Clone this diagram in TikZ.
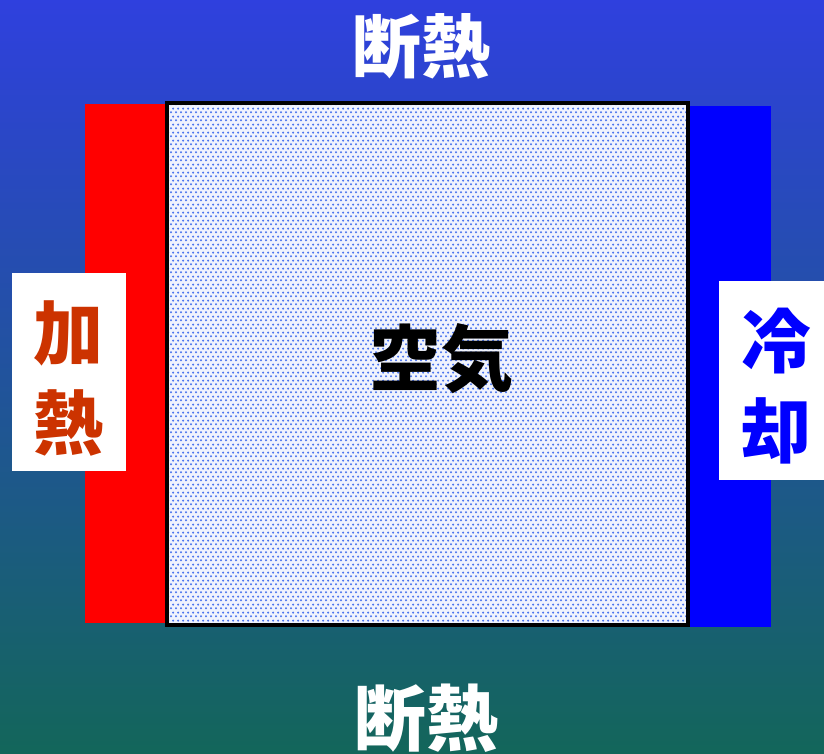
\documentclass[tikz,border=0pt]{standalone}
\usepackage{fontspec}
\newfontfamily\cjk{Noto Sans CJK JP}
\usetikzlibrary{patterns}
\pgfdeclarepatternformonly{airdots}{\pgfpointorigin}{\pgfpoint{5pt}{8pt}}{\pgfpoint{5pt}{8pt}}{%
  \pgfpathcircle{\pgfpoint{1.25pt}{2pt}}{1.3pt}%
  \pgfpathcircle{\pgfpoint{3.75pt}{6pt}}{1.3pt}%
  \pgfusepath{fill}}
\definecolor{bgtop}{HTML}{2F40DE}
\definecolor{bgbot}{HTML}{13665A}
\definecolor{heatred}{HTML}{FF0000}
\definecolor{heattext}{HTML}{CC3300}
\definecolor{coolblue}{HTML}{0000FF}
\definecolor{dotblue}{HTML}{4A74EE}
\definecolor{airbase}{HTML}{F0F3FD}
\tikzset{
  lbl/.style={font=\cjk\bfseries\fontsize{72}{72}\selectfont, inner sep=0pt, anchor=center},
  whitebox/.style={fill=white, draw=none},
}
\begin{document}
\begin{tikzpicture}[x=1pt,y=-1pt]
\useasboundingbox (0,0) rectangle (824,754);
% background gradient
\shade[top color=bgtop, bottom color=bgbot] (0,0) rectangle (824,754);
% heater / cooler bars
\fill[heatred] (85,104) rectangle (167,623);
\fill[coolblue] (688,106) rectangle (771,627);
% air box
\fill[airbase] (167,103) rectangle (688,625);
\fill[pattern=airdots, pattern color=dotblue] (167,103) rectangle (688,625);
\draw[line width=4pt, black] (167,103) rectangle (688,625);
\node[lbl, text=black] (air) at (441,359) {空気};
% side label boxes
\fill[whitebox] (12,273) rectangle (126,471);
\fill[whitebox] (719,281) rectangle (824,480);
\node[lbl, text=heattext, font=\cjk\bfseries\fontsize{70}{70}\selectfont] (ka) at (68,333) {加};
\node[lbl, text=heattext, font=\cjk\bfseries\fontsize{70}{70}\selectfont] (netsu) at (68,423) {熱};
\node[lbl, text=coolblue, font=\cjk\bfseries\fontsize{70}{70}\selectfont] (rei) at (776,341) {冷};
\node[lbl, text=coolblue, font=\cjk\bfseries\fontsize{70}{70}\selectfont] (kyaku) at (776,431) {却};
% insulation labels
\node[lbl, text=white, font=\cjk\bfseries\fontsize{69}{69}\selectfont] (top) at (421,46) {断熱};
\node[lbl, text=white, font=\cjk\bfseries\fontsize{72}{72}\selectfont] (bot) at (426,718) {断熱};
\end{tikzpicture}
\end{document}
